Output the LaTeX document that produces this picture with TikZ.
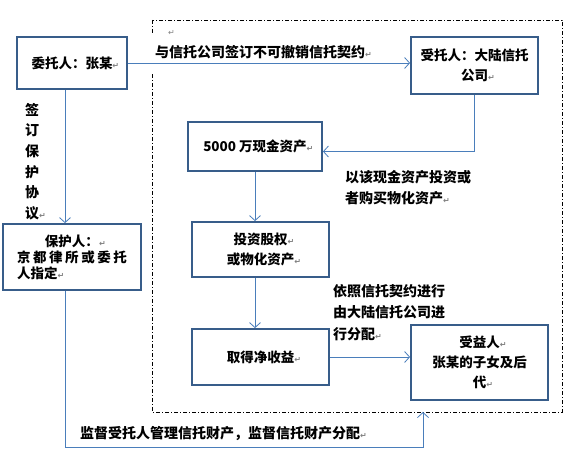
\documentclass[tikz,border=0pt]{standalone}
\usepackage{fontspec}
\setmainfont{Noto Sans CJK SC}
\newfontfamily\markfont{DejaVu Sans}
\usetikzlibrary{arrows.meta}
\definecolor{boxc}{HTML}{385D8A}
\definecolor{arrc}{HTML}{4A7EBB}
\newcommand{\parmark}{\rlap{\markfont\color{gray}\fontsize{8}{8}\selectfont ↵}}
\tikzset{
  box/.style={draw=boxc, line width=1.8pt, fill=white, align=center, inner sep=0pt,
    font=\fontsize{13.5}{20}\selectfont\bfseries},
  arr/.style={draw=arrc, line width=0.8pt, -{Straight Barb[length=5pt,width=11pt]}},
  lbl/.style={align=left, inner sep=0pt, anchor=north west,
    font=\fontsize{14}{21.5}\selectfont\bfseries},
  frame/.style={draw=black, line width=0.7pt, dash pattern=on 4pt off 2pt on 1pt off 2pt},
}
\begin{document}
\begin{tikzpicture}[x=1pt,y=-1pt]
\useasboundingbox (0,0) rectangle (571,457);
% dash-dot frame
\draw[frame] (152,20) rectangle (562,412);
\fill[white] (149,35) rectangle (380,74);
\node[inner sep=0pt] (m0) at (168,33) {\parmark};
% boxes
\node[box, minimum width=110pt, minimum height=52pt] (client) at (72,63) {委托人：张某\parmark};
\node[box, minimum width=127pt, minimum height=57pt] (trustee) at (474.5,65.5) {受托人：大陆信托\\公司\parmark};
\node[box, minimum width=134pt, minimum height=49pt] (cash) at (255,146.5) {5000 万现金资产\parmark};
\node[box, minimum width=137pt, minimum height=55pt] (invest) at (260.5,249.5) {投资股权\parmark\\或物化资产\parmark};
\node[box, minimum width=137pt, minimum height=56pt] (income) at (260.5,357) {取得净收益\parmark};
\node[box, minimum width=137pt, minimum height=75pt] (benef) at (479.5,362.5) {受益人\parmark\\张某的子女及后\\代\parmark};
\node[box, minimum width=138pt, minimum height=66pt, font=\fontsize{13.5}{16}\selectfont\bfseries] (prot) at (72,257)
  {保护人：\parmark\\\makebox[110pt][s]{京\hfill 都\hfill 律\hfill 所\hfill 或\hfill 委\hfill 托}\\\makebox[110pt][l]{人指定\parmark}};
\coordinate (fb) at (423,412);
% connectors
\draw[arr] (client.east) -- (client.east -| trustee.west);
\draw[arr] (trustee.south) |- ([yshift=-5pt]cash.east);
\draw[arr] (cash.south) -- (cash.south |- invest.north);
\draw[arr] (cash.south |- invest.south) -- (cash.south |- income.north);
\draw[arr] (income.east) -- (income.east -| benef.west);
\draw[arr] ([xshift=-7pt]client.south) -- ([xshift=-7pt]client.south |- prot.north);
\draw[arr] ([xshift=-7pt]prot.south) -- ++(0,156) -| (fb);
% labels
\node[lbl, anchor=west] (l1) at (155,52) {与信托公司签订不可撤销信托契约\parmark};
\node[lbl] (l2) at (345,170) {以该现金资产投资或\\者购买物化资产\parmark};
\node[lbl] (l3) at (333,284) {依照信托契约进行\\由大陆信托公司进\\行分配\parmark};
\node[lbl, align=center, anchor=center, font=\fontsize{14}{20.6}\selectfont\bfseries] (l4) at (32,161.5) {签\\订\\保\\护\\协\\议\parmark};
\node[lbl, anchor=west] (l5) at (80,434) {监督受托人管理信托财产，监督信托财产分配\parmark};
\end{tikzpicture}
\end{document}
